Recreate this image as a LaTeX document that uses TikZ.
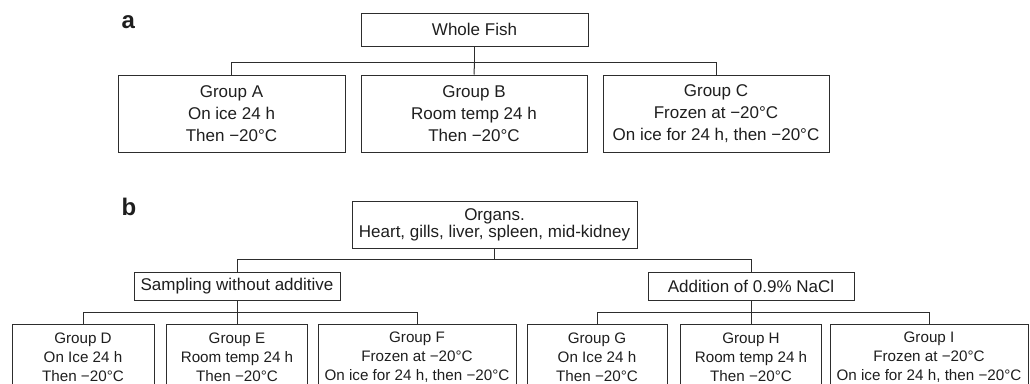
\documentclass[tikz,border=0pt]{standalone}
\usepackage{fontspec}
\setmainfont{Liberation Sans}
\usetikzlibrary{positioning,calc}
\definecolor{LineGray}{RGB}{45,45,45}
\definecolor{InkGray}{RGB}{30,30,30}
\tikzset{
  stage/.style={draw=LineGray,line width=1pt,inner sep=0pt,align=center,text=InkGray,
    font=\fontsize{17}{22}\selectfont},
  group/.style={stage,minimum width=226pt,minimum height=77pt},
  subgroup/.style={stage,minimum height=66pt,font=\fontsize{15.2}{19}\selectfont},
  split/.style={stage,minimum width=206pt,minimum height=28pt},
  link/.style={draw=LineGray,line width=1pt},
  panel/.style={anchor=base west,text=InkGray,font=\fontsize{24}{24}\selectfont\bfseries},
}

\begin{document}
\begin{tikzpicture}[x=1pt,y=-1pt]
  \useasboundingbox (0,0) rectangle (1030,383);
  \clip (0,0) rectangle (1030,383);
  % panel a
  \node[panel] (labA) at (118,28) {a};
  \node[stage,minimum width=227pt,minimum height=33pt] (fish) at (474.5,29.5) {Whole Fish};
  \node[group,minimum width=227pt] (grpA) at (231.5,113.5) {Group A\\On ice 24 h\\Then −20°C};
  \node[group] (grpB) at (474,113.5) {Group B\\Room temp 24 h\\Then −20°C};
  \node[group] (grpC) at (716,113.5) {Group C\\Frozen at −20°C\\On ice for 24 h, then −20°C};
  \draw[link] (fish.south) -- ++(0,16) coordinate (busA);
  \draw[link] (grpA.north) |- (busA) -| (grpC.north);
  \draw[link] (busA) -- (grpB.north);
  % panel b
  \node[panel] (labB) at (118,215) {b};
  \node[stage,minimum width=285pt,minimum height=47pt,font=\fontsize{17}{17}\selectfont]
    (organs) at (494.5,224.5) {Organs.\\Heart, gills, liver, spleen, mid-kidney};
  \node[split] (plain) at (237,286) {Sampling without additive};
  \node[split] (saline) at (751,286) {Addition of 0.9\% NaCl};
  \draw[link] (organs.south) -- ++(0,11) coordinate (busB);
  \draw[link] (plain.north) |- (busB) -| (saline.north);
  \node[subgroup,minimum width=142pt] (grpD) at (83,357) {Group D\\On Ice 24 h\\Then −20°C};
  \node[subgroup,minimum width=141pt] (grpE) at (237,357) {Group E\\Room temp 24 h\\Then −20°C};
  \node[subgroup,minimum width=198pt] (grpF) at (417,357) {Group F\\Frozen at −20°C\\On ice for 24 h, then −20°C};
  \node[subgroup,minimum width=140pt] (grpG) at (597,357) {Group G\\On Ice 24 h\\Then −20°C};
  \node[subgroup,minimum width=141pt] (grpH) at (751,357) {Group H\\Room temp 24 h\\Then −20°C};
  \node[subgroup,minimum width=198pt] (grpI) at (929,357) {Group I\\Frozen at −20°C\\On ice for 24 h, then −20°C};
  \draw[link] (plain.south) -- ++(0,12) coordinate (busD);
  \draw[link] (grpD.north) |- (busD) -| (grpF.north);
  \draw[link] (busD) -- (grpE.north);
  \draw[link] (saline.south) -- ++(0,12) coordinate (busG);
  \draw[link] (grpG.north) |- (busG) -| (grpI.north);
  \draw[link] (busG) -- (grpH.north);
\end{tikzpicture}
\end{document}
